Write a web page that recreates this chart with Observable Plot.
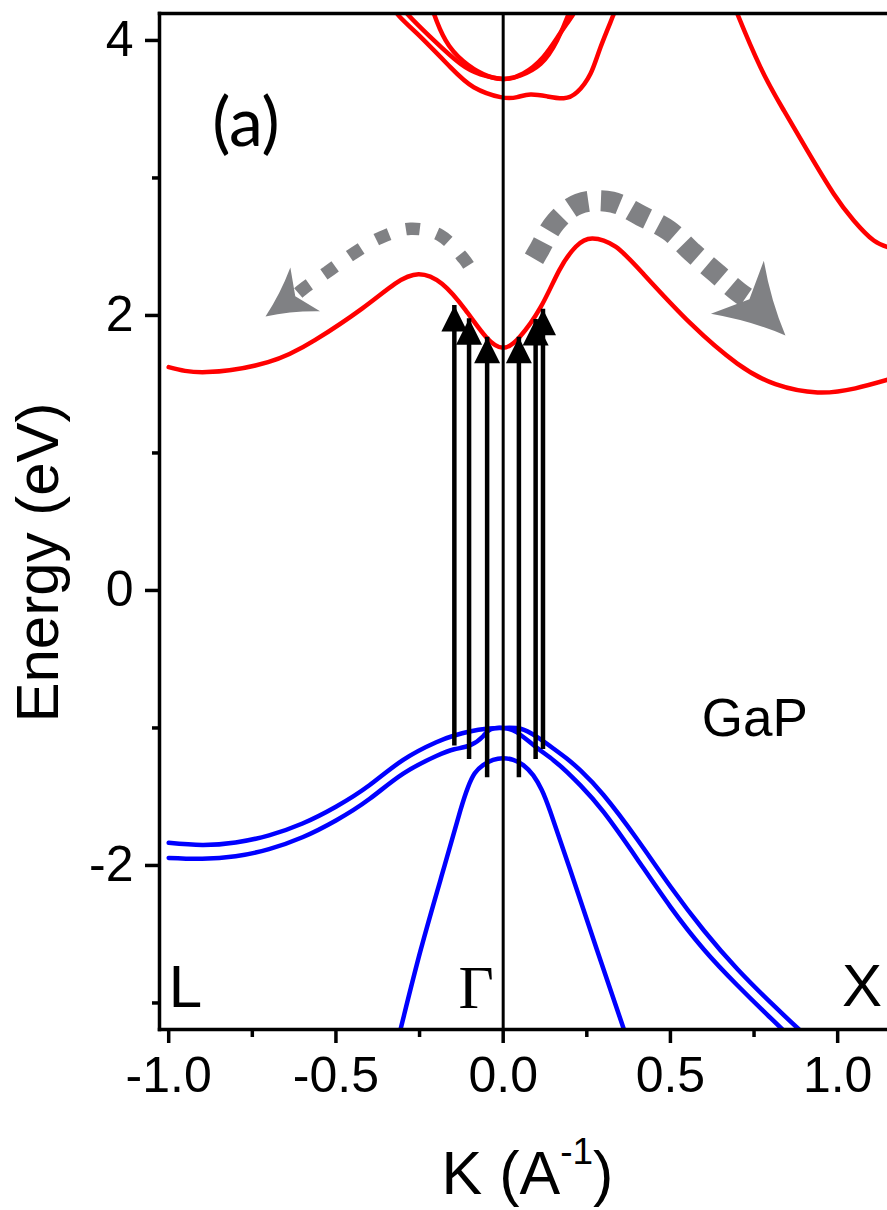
<!DOCTYPE html>
<html>
<head>
<meta charset="utf-8">
<script src="https://cdn.jsdelivr.net/npm/d3@7"></script>
<script src="https://cdn.jsdelivr.net/npm/@observablehq/plot@0.6"></script>
<style>
  html, body { margin: 0; padding: 0; background: white; overflow: hidden; }
  #chart svg { display: block; }
</style>
</head>
<body>
<div id="chart"></div>
<script>
// ---------- Data (k in 1/Å, E in eV) ----------
const xDomain = [-1.0275, 1.149];
const yDomain = [-3.193, 4.196];
const xMajorTicks = [-1.0, -0.5, 0.0, 0.5, 1.0];
const xMinorTicks = [-0.75, -0.25, 0.25, 0.75];
const yMajorTicks = [-2, 0, 2, 4];
const yMinorTicks = [-3, -1, 1, 3];

// conduction bands (red)
const cbLowest = [[-1.0,1.624],[-0.886,1.588],[-0.703,1.66],[-0.563,1.82],[-0.422,2.05],[-0.324,2.23],[-0.253,2.30],[-0.183,2.23],[-0.113,2.04],[-0.05,1.84],[0,1.765],[0.048,1.84],[0.112,2.06],[0.168,2.33],[0.217,2.50],[0.266,2.56],[0.336,2.50],[0.42,2.30],[0.561,1.94],[0.70,1.65],[0.814,1.50],[0.94,1.44],[1.053,1.47],[1.16,1.54]];
const cbUpperX = [[0.69,4.26],[0.700,4.194],[0.769,3.806],[0.839,3.491],[0.909,3.2],[0.988,2.885],[1.048,2.691],[1.108,2.545],[1.16,2.49]];
const cbGammaA = [[-0.33,4.29],[-0.317,4.194],[-0.257,4.049],[-0.158,3.806],[-0.088,3.66],[-0.008,3.588],[0.042,3.588],[0.082,3.607],[0.132,3.593],[0.181,3.58],[0.221,3.624],[0.261,3.758],[0.291,3.951],[0.331,4.194],[0.345,4.29]];
const cbGammaB = [[-0.30,4.25],[-0.287,4.194],[-0.207,4.0],[-0.128,3.83],[-0.068,3.753],[0,3.72],[0.052,3.745],[0.112,3.83],[0.161,4.0],[0.196,4.194],[0.205,4.26]];
const cbGammaC = [[-0.215,4.26],[-0.207,4.194],[-0.172,4.0],[-0.12,3.85],[-0.06,3.755],[0,3.72],[0.06,3.76],[0.12,3.88],[0.17,4.05],[0.21,4.194],[0.22,4.26]];

// valence bands (blue)
const vbHeavy = [[-1.0,-1.835],[-0.9,-1.851],[-0.8,-1.833],[-0.7,-1.781],[-0.6,-1.695],[-0.5,-1.573],[-0.4,-1.417],[-0.3,-1.234],[-0.2,-1.104],[-0.146,-1.055],[-0.1,-1.026],[-0.05,-1.006],[0,-1.0],[0.052,-1.006],[0.102,-1.067],[0.151,-1.151],[0.191,-1.224],[0.231,-1.309],[0.3,-1.488],[0.4,-1.808],[0.5,-2.153],[0.6,-2.473],[0.7,-2.753],[0.8,-2.998],[0.879,-3.18],[0.92,-3.27]];
const vbLight = [[-1.0,-1.945],[-0.9,-1.951],[-0.8,-1.933],[-0.7,-1.881],[-0.6,-1.795],[-0.5,-1.673],[-0.4,-1.517],[-0.3,-1.334],[-0.2,-1.204],[-0.146,-1.155],[-0.098,-1.125],[-0.06,-1.06],[-0.038,-1.01],[0,-1.0],[0.04,-1.03],[0.092,-1.127],[0.151,-1.236],[0.191,-1.321],[0.231,-1.418],[0.3,-1.611],[0.4,-1.951],[0.5,-2.301],[0.6,-2.611],[0.7,-2.871],[0.8,-3.111],[0.86,-3.25]];
const vbSplitOff = [[-0.335,-3.45],[-0.307,-3.193],[-0.247,-2.618],[-0.175,-2.0],[-0.128,-1.6],[-0.105,-1.43],[-0.085,-1.33],[-0.06,-1.27],[-0.03,-1.232],[0,-1.22],[0.03,-1.232],[0.06,-1.27],[0.09,-1.345],[0.115,-1.45],[0.141,-1.61],[0.2,-2.03],[0.281,-2.618],[0.361,-3.193],[0.39,-3.4]];

// Gamma point
const gammaK = [0];

// optical transitions (black arrows)
const arrowK    = [-0.146, -0.102, -0.048, 0.047, 0.097, 0.119];
const arrowFrom = [-1.03, -1.127, -1.26, -1.26, -1.127, -1.055];
const arrowTo   = [2.073, 1.976, 1.842, 1.842, 1.97, 2.045];

// scattering paths (grey dashed arrows)
const scatterL = [[-0.1037,2.364],[-0.1178,2.412],[-0.1874,2.582],[-0.2771,2.631],[-0.3668,2.565],[-0.4466,2.453],[-0.5262,2.315],[-0.6009,2.187],[-0.6269,2.131]];
const scatterLTip = [[-0.7106,1.993]];
const scatterR = [[0.0921,2.413],[0.1064,2.473],[0.1564,2.679],[0.226,2.812],[0.3259,2.824],[0.4105,2.727],[0.4951,2.618],[0.565,2.46],[0.6398,2.303],[0.7043,2.169],[0.7393,2.109]];
const scatterRTip = [[0.8439,1.855]];

// labels
const symPoints = [
  {t: "L", k: -1.0, E: -3.03},
  {t: "X", k: 1.073, E: -3.02}
];
const gammaLabel = [{t: "\u0393", k: -0.081, E: -3.04}];
const panelLabel = [{t: "(a)", k: -0.769, E: 3.236}];
const materialLabel = [{t: "GaP", k: 0.752, E: -1.055}];

// ---------- helpers ----------
const arrows = arrowK.map((k, i) => ({k, E0: arrowFrom[i], E1: arrowTo[i]}));
const triangle = {
  draw(ctx, size) {
    const h = Math.sqrt(size / Math.PI);
    ctx.moveTo(0, 0);
    ctx.lineTo(-h / 2, h);
    ctx.lineTo(h / 2, h);
    ctx.closePath();
  }
};
const stealth = {
  draw(ctx, size) {
    const L = Math.sqrt(size / Math.PI);
    const w = 0.55 * L, n = 0.75 * L;
    ctx.moveTo(0, 0);
    ctx.quadraticCurveTo(-0.2 * L, 0.5 * L, -w, L);
    ctx.lineTo(0, n);
    ctx.lineTo(w, L);
    ctx.quadraticCurveTo(0.2 * L, 0.5 * L, 0, 0);
    ctx.closePath();
  }
};
const X = d => d[0], Y = d => d[1];
const red = "#ff0000", blue = "#0000ff", grey = "#808184";
const band = (data, color) => Plot.line(data, {x: X, y: Y, stroke: color, strokeWidth: 4.5, curve: "natural", clip: true});
const fmt = d => d.toFixed(1);

const chart = Plot.plot({
  width: 887,
  height: 1210,
  marginLeft: 159,
  marginRight: 0,
  marginTop: 13,
  marginBottom: 181,
  x: {domain: xDomain, label: null},
  y: {domain: yDomain, label: null},
  style: {fontFamily: "'Liberation Sans', Arial, sans-serif", background: "white", color: "black", overflow: "visible"},
  marks: [
    // bands
    band(cbLowest, red),
    band(cbUpperX, red),
    band(cbGammaA, red),
    band(cbGammaB, red),
    band(cbGammaC, red),
    band(vbHeavy, blue),
    band(vbLight, blue),
    band(vbSplitOff, blue),
    // Gamma line
    Plot.ruleX(gammaK, {x: d => d, stroke: "black", strokeWidth: 3}),
    // grey dashed scattering arrows
    Plot.line(scatterL, {x: X, y: Y, curve: "catmull-rom", stroke: grey, strokeWidth: 12.5, strokeDasharray: "14,17.5", strokeLinecap: "butt", strokeLinejoin: "miter"}),
    Plot.dot(scatterLTip, {x: X, y: Y, symbol: stealth, r: 48, rotate: 235.8, fill: grey, stroke: "none"}),
    Plot.line(scatterR, {x: X, y: Y, curve: "catmull-rom", stroke: grey, strokeWidth: 21, strokeDasharray: "19,12.6", strokeLinecap: "butt", strokeLinejoin: "miter"}),
    Plot.dot(scatterRTip, {x: X, y: Y, symbol: stealth, r: 68, rotate: 135, fill: grey, stroke: "none"}),
    // black transition arrows
    Plot.ruleX(arrows, {x: "k", y1: "E0", y2: "E1", stroke: "black", strokeWidth: 4.5, insetTop: 14}),
    Plot.dot(arrows, {x: "k", y: "E1", symbol: triangle, r: 26, fill: "black", stroke: "none"}),
    // frame
    Plot.frame({anchor: "left", strokeWidth: 3.5}),
    Plot.frame({anchor: "top", strokeWidth: 3.5}),
    Plot.frame({anchor: "bottom", strokeWidth: 3.5}),
    // axes
    Plot.axisY({ticks: yMajorTicks, tickSize: 14, tickPadding: 12, fontSize: 50, strokeWidth: 3.5, tickFormat: d => String(d), label: null}),
    Plot.axisY({ticks: yMinorTicks, tickSize: 7, strokeWidth: 3.5, tickFormat: () => "", label: null}),
    Plot.axisX({ticks: xMajorTicks, tickSize: 14, tickPadding: 13, fontSize: 50, strokeWidth: 3.5, tickFormat: fmt, label: null}),
    Plot.axisX({ticks: xMinorTicks, tickSize: 8, strokeWidth: 3.5, tickFormat: () => "", label: null}),
    // axis titles
    Plot.text(["Energy (eV)"], {text: d => d, frameAnchor: "left", rotate: -90, dx: -120.5, dy: 41, fontSize: 60, textAnchor: "middle", lineAnchor: "middle", fill: "black"}),
    Plot.text(["K (A-1)"], {text: d => d, frameAnchor: "bottom", lineAnchor: "bottom", dx: 4, dy: 164, fontSize: 61, textAnchor: "middle", fill: "black"}),
    // annotations
    Plot.text(symPoints.slice(0, 1), {x: "k", y: "E", text: "t", fontSize: 60, textAnchor: "start", lineAnchor: "bottom", fill: "black"}),
    Plot.text(symPoints.slice(1), {x: "k", y: "E", text: "t", fontSize: 60, textAnchor: "middle", lineAnchor: "bottom", fill: "black"}),
    Plot.text(gammaLabel, {x: "k", y: "E", text: "t", fontSize: 61, fontFamily: "'Liberation Serif', 'Times New Roman', serif", textAnchor: "middle", lineAnchor: "bottom", fill: "black"}),
    Plot.text(panelLabel, {x: "k", y: "E", text: "t", fontSize: 68, fontFamily: "Lato, 'Open Sans', sans-serif", textAnchor: "middle", lineAnchor: "bottom", fill: "black"}),
    Plot.text(materialLabel, {x: "k", y: "E", text: "t", fontSize: 53, textAnchor: "middle", lineAnchor: "bottom", fill: "black"})
  ]
});

// superscript in the x-axis title
d3.select(chart).selectAll("text").each(function () {
  if (this.textContent === "K (A-1)") {
    const t = d3.select(this);
    t.text(null);
    t.append("tspan").text("K (A");
    t.append("tspan").attr("dy", -30).attr("font-size", 37).text("-1");
    t.append("tspan").attr("dy", 30).text(")");
  }
});

document.getElementById("chart").appendChild(chart);
</script>
</body>
</html>
